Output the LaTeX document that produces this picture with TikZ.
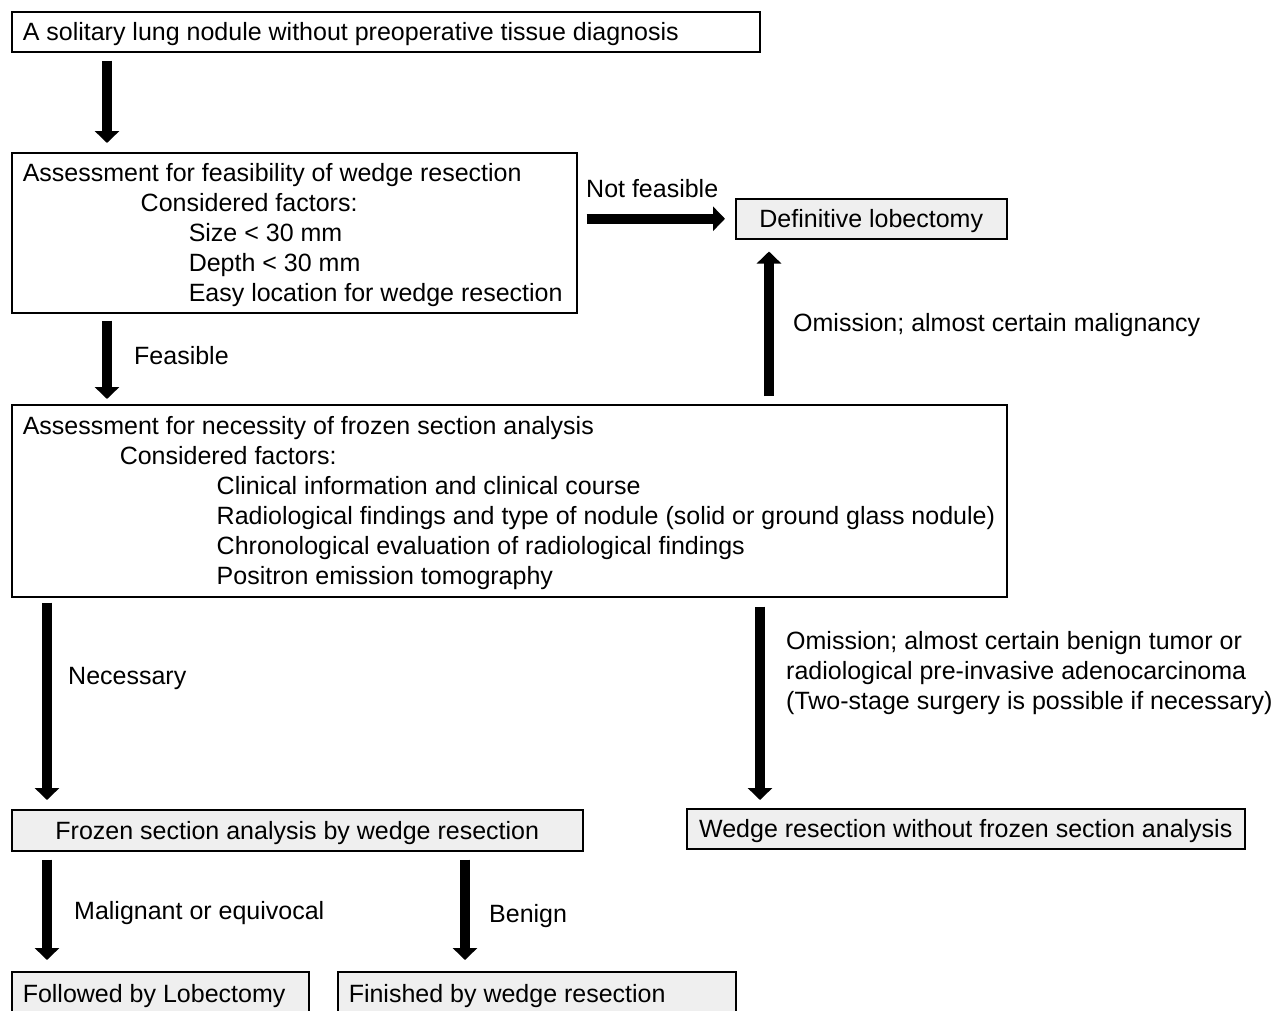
\documentclass[tikz,border=0pt]{standalone}
\usepackage{fontspec}
\setmainfont{Liberation Sans}
\usetikzlibrary{arrows.meta,calc}
\definecolor{boxgray}{HTML}{EFEFEF}
\newcommand{\natsp}{\spaceskip=0pt\xspaceskip=0pt\relax\rule{0pt}{23pt}}
\begin{document}
\begin{tikzpicture}[x=1pt,y=-1pt,
  font=\fontsize{25}{30}\selectfont,
  box/.style={draw, line width=1.5pt, inner xsep=11pt, inner ysep=0pt, anchor=north west},
  gbox/.style={box, fill=boxgray},
  bigarrow/.style={line width=10pt, -{Triangle[width=24pt,length=12pt]}},
  lbl/.style={anchor=base west, inner sep=0pt}]
\useasboundingbox[fill=white] (0,0) rectangle (1274,1010);

% boxes
\node[box, minimum width=748pt, minimum height=40pt, text width=726pt, align=left] (b1) at (11,11)
  {\natsp\mbox{A solitary lung nodule without preoperative tissue diagnosis}};

\node[box, minimum width=565pt, minimum height=160pt, text width=543pt, align=left] (b2) at (11,152)
  {\natsp\mbox{Assessment for feasibility of wedge resection}\\
   \mbox{\hspace*{118pt}Considered factors:}\\
   \mbox{\hspace*{166pt}Size < 30 mm}\\
   \mbox{\hspace*{166pt}Depth < 30 mm}\\
   \mbox{\hspace*{166pt}Easy location for wedge resection}};

\node[gbox, minimum width=271pt, minimum height=40pt, align=center] (lob) at (735,198)
  {\natsp Definitive lobectomy};

\node[box, minimum width=995pt, minimum height=192pt, text width=973pt, align=left] (b3) at (11,404)
  {\natsp\mbox{Assessment for necessity of frozen section analysis}\\
   \mbox{\hspace*{97pt}Considered factors:}\\
   \mbox{\hspace*{194pt}Clinical information and clinical course}\\
   \mbox{\hspace*{194pt}Radiological findings and type of nodule (solid or ground glass nodule)}\\
   \mbox{\hspace*{194pt}Chronological evaluation of radiological findings}\\
   \mbox{\hspace*{194pt}Positron emission tomography}};

\node[gbox, minimum width=571pt, minimum height=41pt, align=center] (frz) at (11,809)
  {\natsp Frozen section analysis by wedge resection};

\node[gbox, minimum width=558pt, minimum height=40pt, align=center] (wdg) at (686,808)
  {\natsp Wedge resection without frozen section analysis};

\node[gbox, minimum width=297pt, minimum height=44pt, text width=275pt, align=left] (fol) at (11,971)
  {\natsp\mbox{Followed by Lobectomy}};

\node[gbox, minimum width=398pt, minimum height=44pt, text width=376pt, align=left] (fin) at (337,971)
  {\natsp\mbox{Finished by wedge resection}};

% connectors
\draw[bigarrow, shorten <=8pt, shorten >=9pt]
  ([xshift=96pt]b1.south west) -- ([xshift=96pt]b1.south west |- b2.north);
\draw[bigarrow, shorten <=9pt, shorten >=10pt]
  (b2.east |- lob.west) -- (lob.west);
\draw[bigarrow, shorten <=8pt, shorten >=12pt]
  ([xshift=34pt]lob.south west |- b3.north) -- ([xshift=34pt]lob.south west);
\draw[bigarrow, shorten <=7pt, shorten >=5pt]
  ([xshift=96pt]b2.south west) -- ([xshift=96pt]b2.south west |- b3.north);
\draw[bigarrow, shorten <=5pt, shorten >=9pt]
  ([xshift=36pt]b3.south west) -- ([xshift=36pt]b3.south west |- frz.north);
\draw[bigarrow, shorten <=9pt, shorten >=8pt]
  ([xshift=74pt]wdg.north west |- b3.south) -- ([xshift=74pt]wdg.north west);
\draw[bigarrow, shorten <=8pt, shorten >=11pt]
  ([xshift=36pt]frz.south west) -- ([xshift=36pt]frz.south west |- fol.north);
\draw[bigarrow, shorten <=8pt, shorten >=11pt]
  ([xshift=454pt]frz.south west) -- ([xshift=454pt]frz.south west |- fin.north);

% labels
\node[lbl] (lnf) at (586,197) {Not feasible};
\node[lbl] (lmal) at (793,331) {Omission; almost certain malignancy};
\node[lbl] (lfea) at (134,364) {Feasible};
\node[lbl] (lnec) at (68,684) {Necessary};
\node[lbl] (lom1) at (786,649) {Omission; almost certain benign tumor or};
\node[lbl] (lom2) at (786,679) {radiological pre-invasive adenocarcinoma};
\node[lbl] (lom3) at (786,709) {(Two-stage surgery is possible if necessary)};
\node[lbl] (lme) at (74,919) {Malignant or equivocal};
\node[lbl] (lben) at (489,922) {Benign};
\end{tikzpicture}
\end{document}
